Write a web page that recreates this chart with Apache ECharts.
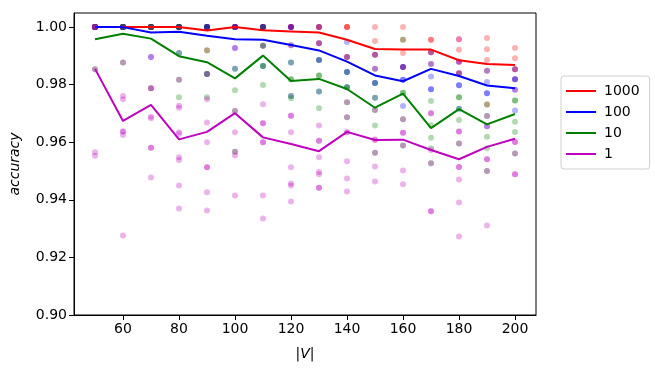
<!DOCTYPE html>
<html>
<head>
<meta charset="utf-8">
<script src="https://cdn.jsdelivr.net/npm/echarts@6/dist/echarts.min.js"></script>
<style>html,body{margin:0;padding:0;background:#fff}#c{width:655px;height:372px}</style>
</head>
<body>
<div id="c"></div>
<script>
var xs = [50,60,70,80,90,100,110,120,130,140,150,160,170,180,190,200];
var xTicks = [60,80,100,120,140,160,180,200];
var yTicks = [0.90,0.92,0.94,0.96,0.98,1.00];
var seriesNames = ['1000','100','10','1'];

var line1000 = [1.000,1.000,1.000,1.000,0.9988,1.000,0.9989,0.9985,0.9981,0.9956,0.9924,0.9922,0.9922,0.9885,0.9872,0.9868];
var line100  = [1.000,1.000,0.9981,0.9984,0.9970,0.9958,0.9956,0.9938,0.9919,0.9880,0.9832,0.9812,0.9855,0.9830,0.9797,0.9788];
var line10   = [0.9958,0.9977,0.9960,0.9899,0.9878,0.9822,0.9901,0.9813,0.9820,0.9785,0.9720,0.9769,0.9649,0.9715,0.9662,0.9698];
var line1    = [0.9855,0.9674,0.9730,0.9610,0.9636,0.9701,0.9617,0.9594,0.9569,0.9636,0.9608,0.9609,0.9573,0.9541,0.9584,0.9612];

var pts1000 = [
 [1,1,1,1,1],[1,1,1,1,1],[1,1,1,1,1],[1,1,1,1,1],[1,1,1,1,0.9920],[1,1,1,1,1],
 [1,1,1,1,0.9935],[1,1,1,1,0.9937],[1,1,1,0.9944,0.9944],[1,1,1,0.9896,0.9896],
 [1,0.9952,0.9904,0.9904,0.9855],[1,0.9956,0.9910,0.9861,0.9861],
 [0.9956,0.9956,0.9913,0.9913,0.9872],[0.9958,0.9921,0.9880,0.9840,0.9840],
 [0.9962,0.9923,0.9886,0.9848,0.9731],[0.9927,0.9892,0.9854,0.9854,0.9819]
];
var pts100 = [
 [1,1,1,1,1],[1,1,1,1,1],[1,1,1,1,0.9896],[1,1,1,1,0.9910],[1,1,1,1,0.9837],
 [1,1,1,0.9927,0.9855],[1,1,1,0.9935,0.9865],[1,1,0.9937,0.9877,0.9761],
 [1,0.9944,0.9886,0.9886,0.9776],[0.9948,0.9896,0.9844,0.9844,0.9791],
 [0.9904,0.9855,0.9806,0.9806,0.9755],[0.9861,0.9861,0.9817,0.9817,0.9726],
 [0.9913,0.9872,0.9828,0.9784,0.9784],[0.9880,0.9840,0.9798,0.9798,0.9716],
 [0.9848,0.9809,0.9770,0.9770,0.9656],[0.9854,0.9819,0.9819,0.9782,0.9710]
];
var pts10 = [
 [1,1,1,1,0.9854],[1,1,1,1,0.9877],[1,1,1,1,0.9788],[1,1,0.9910,0.9817,0.9756],
 [1,0.9919,0.9837,0.9837,0.9756],[1,0.9855,0.9781,0.9709,0.9567],
 [1,0.9935,0.9865,0.9865,0.9799],[0.9877,0.9819,0.9819,0.9761,0.9753],
 [0.9886,0.9832,0.9832,0.9776,0.9718],[0.9844,0.9791,0.9791,0.9739,0.9687],
 [0.9806,0.9755,0.9712,0.9658,0.9564],[0.9956,0.9772,0.9772,0.9680,0.9589],
 [0.9743,0.9659,0.9616,0.9579,0.9527],[0.9756,0.9756,0.9716,0.9677,0.9596],
 [0.9731,0.9691,0.9619,0.9579,0.9500],[0.9745,0.9745,0.9671,0.9636,0.9561]
];
var pts1 = [
 [1,1,1,1,0.9854,0.9565,0.9553],
 [1,0.9877,0.9761,0.9749,0.9637,0.9637,0.9625,0.9276],
 [1,0.9896,0.9788,0.9788,0.9689,0.9683,0.9581,0.9581,0.9478],
 [0.9817,0.9727,0.9720,0.9635,0.9629,0.9548,0.9538,0.9450,0.9370],
 [0.9837,0.9749,0.9669,0.9600,0.9513,0.9513,0.9426,0.9363],
 [1,0.9927,0.9709,0.9635,0.9567,0.9554,0.9415],
 [0.9732,0.9666,0.9666,0.9600,0.9600,0.9415,0.9335],
 [0.9692,0.9692,0.9635,0.9513,0.9457,0.9450,0.9394],
 [0.9658,0.9605,0.9605,0.9548,0.9497,0.9489,0.9442,0.9442],
 [0.9739,0.9687,0.9635,0.9635,0.9534,0.9474,0.9429],
 [0.9712,0.9610,0.9608,0.9564,0.9516,0.9464],
 [0.9680,0.9633,0.9633,0.9589,0.9502,0.9454],
 [0.9701,0.9701,0.9573,0.9527,0.9360,0.9360],
 [0.9958,0.9880,0.9637,0.9637,0.9596,0.9514,0.9514,0.9471,0.9391,0.9273],
 [0.9691,0.9656,0.9541,0.9541,0.9500,0.9311],
 [0.9782,0.9601,0.9601,0.9561,0.9489,0.9489]
];

var colors = ['#ff0000','#0000ff','#008000','#bf00bf'];
var lines = [line1000, line100, line10, line1];
var pts = [pts1000, pts100, pts10, pts1];

function toPairs(arr){ return xs.map(function(x,i){ return [x, arr[i]]; }); }
function toScatter(p){
  var out = [];
  p.forEach(function(vals,i){ vals.forEach(function(v){ out.push([xs[i], v]); }); });
  return out;
}

var series = [];
pts.forEach(function(p,k){
  series.push({
    name: seriesNames[k] + ' trials', type: 'scatter', data: toScatter(p),
    symbolSize: 6, z: 2, silent: true,
    itemStyle: { color: colors[k], opacity: 0.3 }
  });
});
lines.forEach(function(l,k){
  series.push({
    name: seriesNames[k], type: 'line', data: toPairs(l), z: 3,
    symbol: 'none', lineStyle: { color: colors[k], width: 2 },
    itemStyle: { color: colors[k] }
  });
});

var font = 'DejaVu Sans';
var chart = echarts.init(document.getElementById('c'), null, {renderer: 'canvas'});
chart.setOption({
  animation: false,
  backgroundColor: '#fff',
  grid: { left: 72, right: 119, top: 13, bottom: 57, show: true, borderColor: '#000', borderWidth: 1, backgroundColor: 'transparent' },
  legend: {
    data: seriesNames, orient: 'vertical', left: 561, top: 76,
    icon: 'rect', itemWidth: 30, itemHeight: 2, itemGap: 7,
    padding: [8, 10, 8, 5],
    borderColor: '#d0d0d0', borderWidth: 1, borderRadius: 3,
    textStyle: { fontFamily: font, fontSize: 14, color: '#000', padding: [0,0,0,3] }
  },
  xAxis: {
    type: 'value', min: 42.5, max: 207.5,
    name: '|V|', nameLocation: 'middle', nameGap: 32,
    nameTextStyle: { fontFamily: font, fontSize: 14, fontStyle: 'italic', color: '#000' },
    axisLine: { show: true, lineStyle: { color: '#000' } },
    axisTick: { show: true, length: 5, lineStyle: { color: '#000' }, customValues: xTicks },
    axisLabel: { fontFamily: font, fontSize: 14, color: '#000', margin: 7, customValues: xTicks },
    splitLine: { show: false }
  },
  yAxis: {
    type: 'value', min: 0.9, max: 1.0049,
    name: 'accuracy', nameLocation: 'middle', nameGap: 52,
    nameTextStyle: { fontFamily: font, fontSize: 14, fontStyle: 'italic', color: '#000' },
    axisLine: { show: true, lineStyle: { color: '#000' } },
    axisTick: { show: true, length: 5, lineStyle: { color: '#000' }, customValues: yTicks },
    axisLabel: { fontFamily: font, fontSize: 14, color: '#000', margin: 7, customValues: yTicks,
      formatter: function(v){ return v.toFixed(2); } },
    splitLine: { show: false }
  },
  series: series
});
</script>
</body>
</html>
